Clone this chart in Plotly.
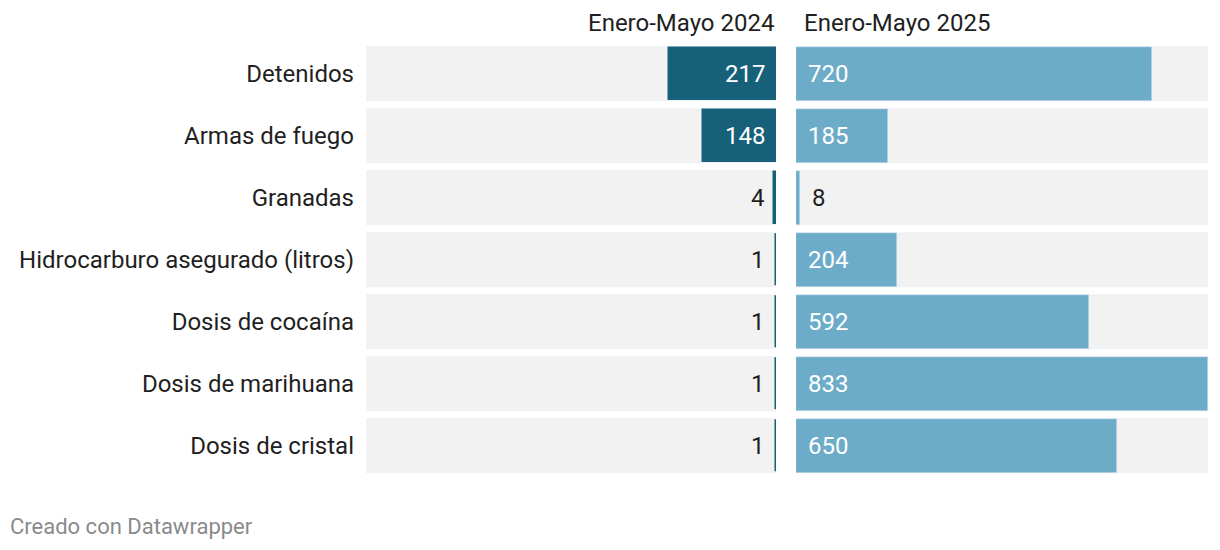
import plotly.graph_objects as go

categories = ["Detenidos", "Armas de fuego", "Granadas", "Hidrocarburo asegurado (litros)",
              "Dosis de cocaína", "Dosis de marihuana", "Dosis de cristal"]
values_2024 = [217, 148, 4, 1, 1, 1, 1]
values_2025 = [720, 185, 8, 204, 592, 833, 650]
col_titles = ["Enero-Mayo 2024", "Enero-Mayo 2025"]

DARK = "#17607a"
LIGHT = "#6cacc9"
GRAY = "#f2f2f2"
TXT = "#1f1f1f"
FONT = "Roboto"
FS = 24
vmax = max(max(values_2024), max(values_2025))

W, H = 1212, 542  # page body has an 8px margin

fig = go.Figure()
bw = 0.87
fig.add_trace(go.Bar(y=categories, x=[vmax] * len(categories), orientation="h",
                     marker=dict(color=GRAY), width=bw, xaxis="x", yaxis="y",
                     hoverinfo="skip", showlegend=False))
fig.add_trace(go.Bar(y=categories, x=[vmax] * len(categories), orientation="h",
                     marker=dict(color=GRAY), width=bw, xaxis="x2", yaxis="y",
                     hoverinfo="skip", showlegend=False))
fig.add_trace(go.Bar(y=categories, x=values_2024, orientation="h",
                     marker=dict(color=DARK, line=dict(color=DARK, width=1.5)),
                     width=bw - 0.02, xaxis="x", yaxis="y", showlegend=False))
fig.add_trace(go.Bar(y=categories, x=values_2025, orientation="h",
                     marker=dict(color=LIGHT), width=bw, xaxis="x2", yaxis="y",
                     showlegend=False))

annotations = []
for c, v in zip(categories, values_2024):
    inside = v > vmax * 0.06
    annotations.append(dict(x=0, y=c, xref="x", yref="y", text=str(v), showarrow=False,
                            xanchor="right", xshift=-9,
                            font=dict(family=FONT, size=FS, color="white" if inside else TXT)))
for c, v in zip(categories, values_2025):
    inside = v > vmax * 0.06
    annotations.append(dict(x=0 if inside else v, y=c, xref="x2", yref="y", text=str(v),
                            showarrow=False, xanchor="left", xshift=10,
                            font=dict(family=FONT, size=FS, color="white" if inside else TXT)))
annotations.append(dict(x=1, y=1, xref="x domain", yref="paper", yshift=20, text=col_titles[0],
                        showarrow=False, xanchor="right", yanchor="middle",
                        font=dict(family=FONT, size=FS, color=TXT)))
annotations.append(dict(x=0, y=1, xref="x2 domain", yref="paper", yshift=20, text=col_titles[1],
                        showarrow=False, xanchor="left", xshift=6, yanchor="middle",
                        font=dict(family=FONT, size=FS, color=TXT)))
annotations.append(dict(x=0, y=0, xref="paper", yref="paper", text="Creado con Datawrapper",
                        showarrow=False, xanchor="left", yanchor="middle", yshift=-49,
                        font=dict(family=FONT, size=22, color="#8a8a8a")))

fig.update_layout(
    width=W, height=H,
    margin=dict(l=0, r=0, t=35, b=73),
    paper_bgcolor="white", plot_bgcolor="white",
    barmode="overlay", bargap=0,
    font=dict(family=FONT, size=FS, color=TXT),
    xaxis=dict(domain=[358 / W, 768 / W], range=[vmax * 410 / 412, 0], visible=False, fixedrange=True),
    xaxis2=dict(domain=[788 / W, 1200 / W], range=[0, vmax], visible=False, fixedrange=True),
    yaxis=dict(autorange="reversed", showgrid=False, zeroline=False, showline=False,
               ticks="", ticklabelstandoff=11, anchor="x",
               tickfont=dict(family=FONT, size=FS, color=TXT)),
    annotations=annotations,
)

fig.write_html("out.html")
